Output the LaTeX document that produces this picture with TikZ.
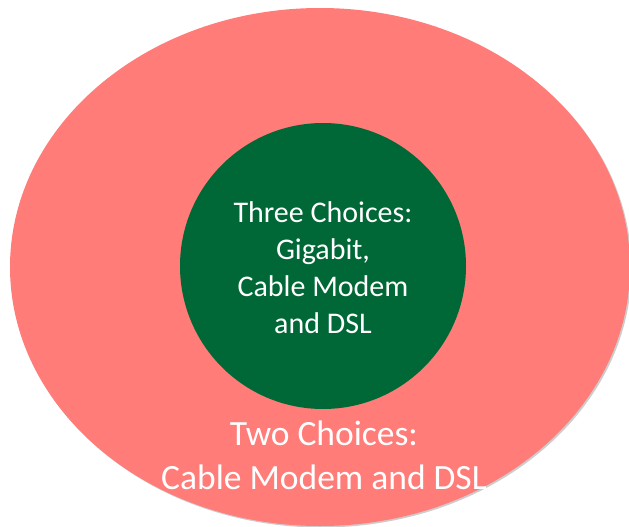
\documentclass[tikz,border=0pt]{standalone}
\usepackage{fontspec}
\setmainfont{Carlito}
\usetikzlibrary{shapes.geometric}
\definecolor{salmon}{RGB}{255,124,120}
\definecolor{darkgreen}{RGB}{0,104,54}
\definecolor{shadowgray}{RGB}{205,205,205}
\begin{document}
\begin{tikzpicture}[x=1pt,y=-1pt,
  outerset/.style={ellipse, fill=salmon, minimum width=620pt, minimum height=518pt, inner sep=0pt},
  innerset/.style={circle, fill=darkgreen, minimum size=286pt, inner sep=0pt, text=white, align=center,
    font=\fontsize{30pt}{37pt}\selectfont},
  outertext/.style={text=white, align=center, font=\fontsize{35.5pt}{44pt}\selectfont}]
\useasboundingbox (0,0) rectangle (629,527);
\node[ellipse, fill=shadowgray, minimum width=620pt, minimum height=518pt, inner sep=0pt] (shadow) at (321.5,268.5) {};
\node[outerset] (outer) at (320,267) {};
\node[innerset] (inner) at (323,266) {};
\node[text=white, align=center, font=\fontsize{30pt}{37pt}\selectfont] (innerlabel) at (inner.center) [yshift=-2pt] {Three Choices:\\Gigabit,\\Cable Modem\\and DSL};
\node[outertext] (outerlabel) at (324,455) {Two Choices:\\Cable Modem and DSL};
\end{tikzpicture}
\end{document}
